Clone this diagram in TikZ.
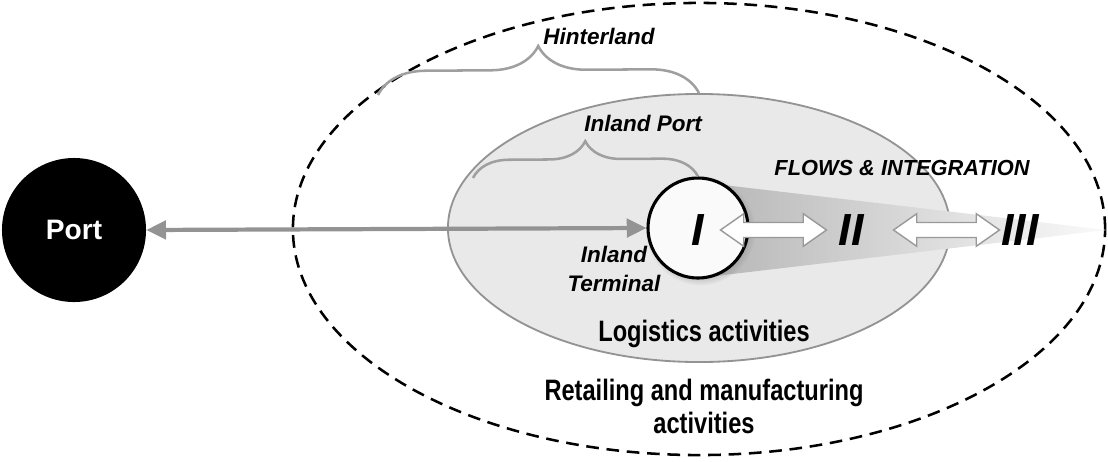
\documentclass[tikz,border=0pt]{standalone}
\usepackage{fontspec}
\setmainfont{Liberation Sans}
\newfontfamily\narrowfont{Liberation Sans}[FakeStretch=0.8]
\usetikzlibrary{arrows.meta,calc,shapes.geometric,shapes.arrows,decorations.pathreplacing,shadows}

\begin{document}
\begin{tikzpicture}[x=0.025cm,y=-0.025cm,
	lbl/.style={font=\bfseries\itshape\fontsize{#1}{21}\selectfont,inner sep=0pt,align=center},
	nlbl/.style={font=\narrowfont\bfseries\fontsize{#1}{23.5}\selectfont,inner sep=0pt,align=center},
	brc/.style={draw=gray!75,line width=1.8pt,decorate,decoration={brace,amplitude=#1}},
	dbl/.style={double arrow,draw=gray!80,fill=white,line width=1pt,inner xsep=0pt,inner ysep=0.17cm,
		minimum height=2.65cm,double arrow head extend=0.22cm,double arrow tip angle=70}]
	\useasboundingbox (0,0) rectangle (1108,461);
	\node[ellipse,draw,dashed,dash pattern=on 9pt off 5.5pt,line width=1.8pt,minimum width=20.3cm,minimum height=11.3cm] (hinter) at (699,229) {};
	\node[ellipse,draw=gray!85,fill=gray!17,line width=1.3pt,minimum width=12.55cm,minimum height=6.7cm] (inport) at (699,228) {};
	\coordinate (apex) at (1107,230);
	\shade[left color=gray!58,right color=gray!4] (698,182) -- (apex) -- (698,278) -- cycle;
	\node[circle,draw,fill=gray!4,line width=2.2pt,minimum size=2.5cm,circular drop shadow={opacity=0.35}] (term) at (698,228) {};
	\node[circle,fill=black,minimum size=3.6cm] (port) at (74,230) {};
	\node[text=white,font=\bfseries\fontsize{20}{20}\selectfont] at (port) {Port};
	\draw[gray!85,line width=3pt,{Triangle[length=14pt,width=13pt]}-{Triangle[length=14pt,width=13pt]}] (port.east) -- (term.west);
	\node[lbl=32] (one) at (698,230) {I};
	\node[lbl=32] (two) at (851,230) {II};
	\node[lbl=32] (three) at (1020,230) {III};
	\node[dbl] (a12) at ($(one)!0.5!(two)+(-1,0)$) {};
	\node[dbl] (a23) at ($(two)!0.5!(three)+(11,0)$) {};
	\coordinate (hl) at (378,95);
	\coordinate (hr) at (inport.north);
	\draw[brc=1.2cm] (hl) -- (hr);
	\coordinate (pl) at (473,178);
	\coordinate (pr) at (term.north);
	\draw[brc=0.9cm] (pl) -- (pr);
	\node[lbl=16] (hlab) at (599,36) {Hinterland};
	\node[lbl=16] (plab) at (643,123) {Inland Port};
	\node[lbl=15.5] (flows) at (902,168) {FLOWS \& INTEGRATION};
	\node[lbl=16] (tlab) at (614,269) {Inland\\Terminal};
	\node[nlbl=21] (logi) at (704,334) {Logistics activities};
	\node[nlbl=21] (retail) at (704,406) {Retailing and manufacturing\\activities};
\end{tikzpicture}
\end{document}
